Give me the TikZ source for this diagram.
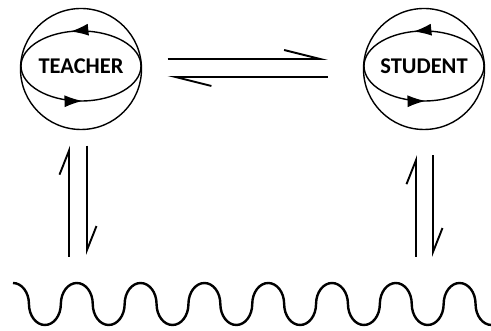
\documentclass[tikz,border=0pt]{standalone}
\usepackage{fontspec}
\setmainfont{Carlito}
\usetikzlibrary{calc,arrows.meta,decorations.markings}

\begin{document}
\begin{tikzpicture}[x=1pt,y=1pt]
    \tikzstyle{agent}=[circle,draw,line width=1.4pt,minimum size=121pt,inner sep=0pt,text depth=6pt,font=\fontsize{22.5}{27}\selectfont\bfseries]
    \tikzstyle{cycle}=[draw,line width=1.4pt,postaction={decorate},decoration={markings,
        mark=at position .285 with {\arrow{Latex[length=18pt,width=12pt]}},
        mark=at position .755 with {\arrow{Latex[length=18pt,width=12pt]}}}]
    \tikzstyle{exchange}=[line width=1.9pt,-{Straight Barb[left,length=36pt,width=18pt]}]
    \tikzstyle{flux}=[line width=1.9pt,-{Straight Barb[left,length=24pt,width=19pt]}]
    \tikzstyle{wave line}=[line width=2.4pt,x radius=15.95,y radius=21]
    \useasboundingbox (0,0) rectangle (491,331);

    \node(teacher)[agent] at (81,262) {TEACHER};
    \node(student)[agent] at (424,262) {STUDENT};
    \coordinate(wave) at (13,48);
% inner cycles
\draw[cycle] ($(teacher)+(0,3)$) ellipse (60 and 35);
\draw[cycle] ($(student)+(0,3)$) ellipse (60 and 35);
% teacher <-> student
\draw[exchange,shorten <=25.5pt,shorten >=35pt] ($(teacher.east)+(0,10)$) -- ($(student.west)+(0,10)$);
\draw[exchange,shorten <=35pt,shorten >=25.5pt] ($(student.west)+(0,-8)$) -- ($(teacher.east)+(0,-8)$);
% agents <-> medium
\draw[flux,shorten <=26pt,shorten >=15.5pt] ($(teacher.south |- wave)+(-12,0)$) -- ($(teacher.south)+(-12,0)$);
\draw[flux,shorten <=15.5pt,shorten >=28pt] ($(teacher.south)+(6,0)$) -- ($(teacher.south |- wave)+(6,0)$);
\draw[flux,shorten <=26pt,shorten >=25pt] ($(student.south |- wave)+(-8,0)$) -- ($(student.south)+(-8,0)$);
\draw[flux,shorten <=25pt,shorten >=26pt] ($(student.south)+(9,0)$) -- ($(student.south |- wave)+(9,0)$);
% medium
\draw[wave line] (wave) arc[start angle=90,end angle=0]
    foreach \i in {1,...,7}{arc[start angle=180,end angle=360] arc[start angle=180,end angle=0]}
    arc[start angle=180,end angle=270];
\end{tikzpicture}
\end{document}
